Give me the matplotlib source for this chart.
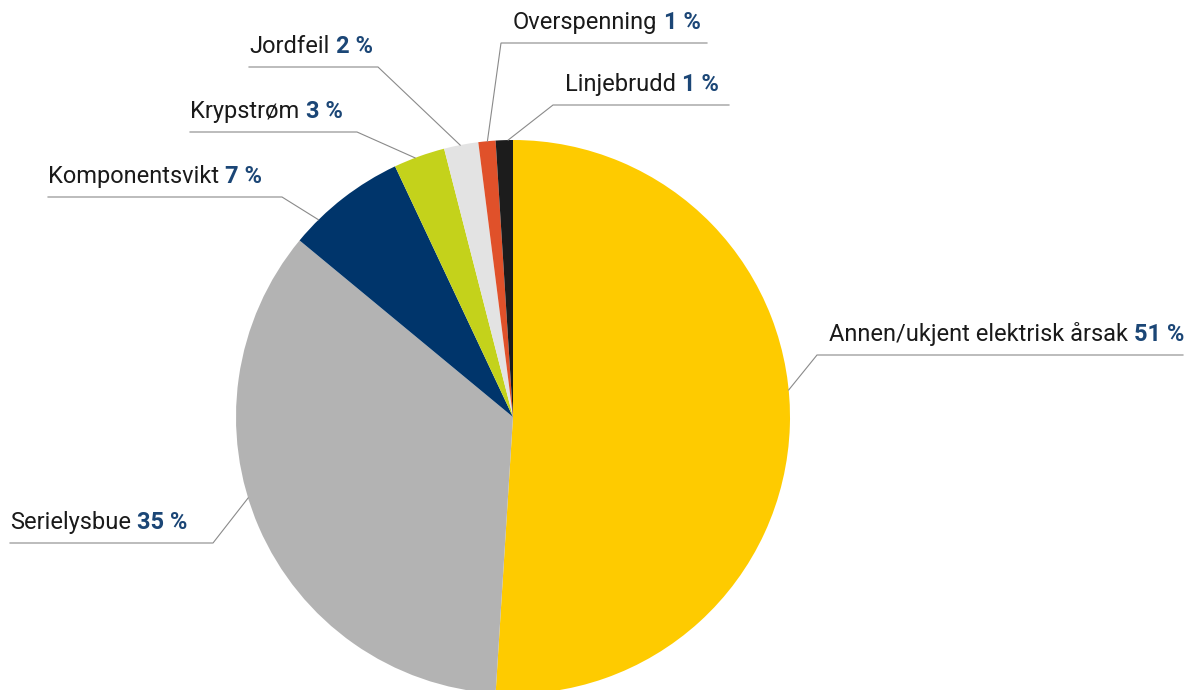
import matplotlib.pyplot as plt
import numpy as np

# data
causes = ["Annen/ukjent elektrisk årsak", "Serielysbue", "Komponentsvikt",
          "Krypstrøm", "Jordfeil", "Overspenning", "Linjebrudd"]
shares = [51, 35, 7, 3, 2, 1, 1]
colors = ["#FECB00", "#B3B3B3", "#00356B", "#C4D21B", "#E3E3E3", "#E0512A", "#1C1C1C"]

# label layout in pixels (y measured from top): anchor angle on rim, elbow, line end, side
leaders = [
    (5.6, (817, 355), 1183, "right"),
    (197.0, (213, 543), 10, "left"),
    (134.6, (282, 197), 48, "left"),
    (110.7, (357, 132), 190, "left"),
    (101.0, (378, 67), 249, "left"),
    (95.3, (501, 43), 707, "right"),
    (91.0, (553, 105), 729, "right"),
]

W, H = 1187, 690
CX, CY, R = 513, H - 417, 277

plt.rcParams["font.family"] = ["Roboto", "DejaVu Sans"]

fig = plt.figure(figsize=(W / 100, H / 100), dpi=100)
ax = fig.add_axes([0, 0, 1, 1])
ax.pie(shares, colors=colors, startangle=90, counterclock=False,
       center=(CX, CY), radius=R, wedgeprops=dict(linewidth=0))
ax.set_xlim(0, W)
ax.set_ylim(0, H)
ax.set_aspect("equal")
ax.axis("off")

for name, pct, (ang, (ex, ey), lend, side) in zip(causes, shares, leaders):
    a = np.deg2rad(ang)
    px, py = CX + R * np.cos(a), CY + R * np.sin(a)
    ey = H - ey
    ax.plot([px, ex, lend], [py, ey, ey], color="#8a8a8a", lw=0.8,
            solid_joinstyle="miter", zorder=1)
    tx = lend if side == "left" else ex + 12
    t = ax.text(tx, ey + 9, name, fontsize=17, color="#1a1a1a",
                ha="left", va="bottom")
    ax.annotate(f"{pct} %", xy=(1, 0), xycoords=t, xytext=(4.5, 0),
                textcoords="offset points", fontsize=17, fontweight="bold",
                color="#1B4676", ha="left", va="bottom")

fig.savefig("out.png", dpi=100)
